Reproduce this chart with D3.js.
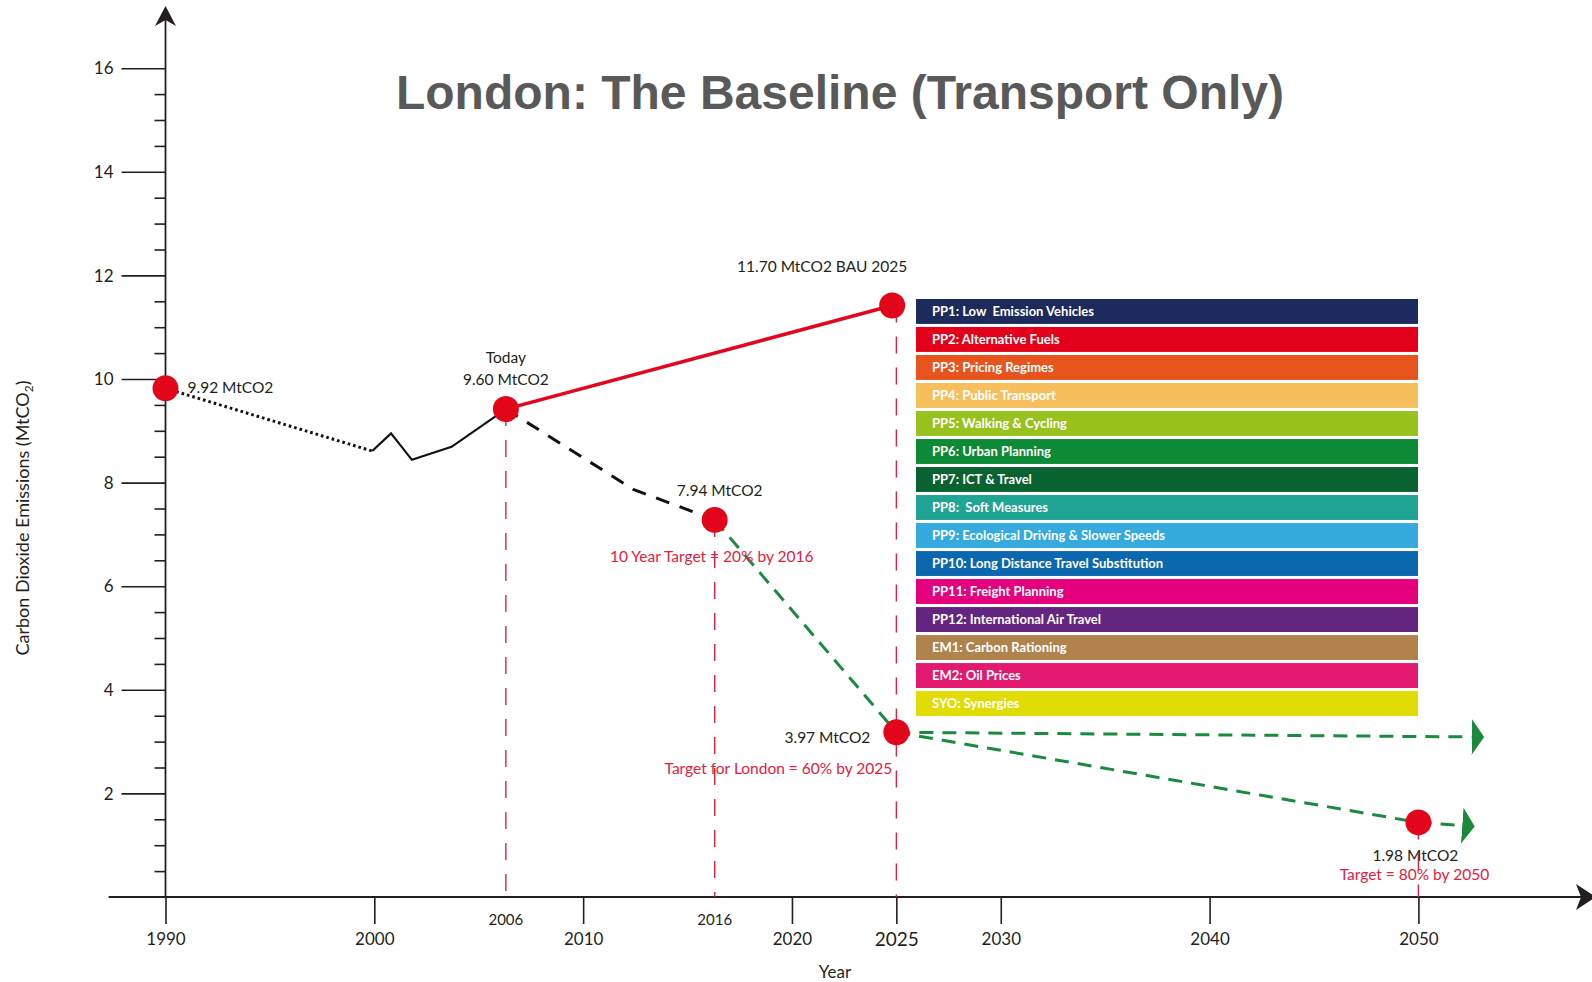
<!DOCTYPE html>
<html>
<head>
<meta charset="utf-8">
<script src="https://cdn.jsdelivr.net/npm/d3@7"></script>
<style>
  body { margin: 0; background: #fff; }
  svg { display: block; font-family: Lato, "Open Sans", sans-serif; }
  .tick text { font-family: Lato, sans-serif; fill: #231f20; }
  .policy { white-space: pre; }
</style>
</head>
<body>
<div id="chart"></div>
<script>
const WIDTH = 1592;
const HEIGHT = 982;

// axis ticks
const yearTicks = [1990, 2000, 2010, 2020, 2025, 2030, 2040, 2050];
// the two milestone years sit slightly right of their calendar position in the drawing
const markerYears = [2006.3, 2016.3];
const emissionTicks = [2, 4, 6, 8, 10, 12, 14, 16];

// series (year, MtCO2)
const historyDotted = [[1990, 9.82], [1999.9, 8.61]];
const historySolid = [[1999.9, 8.61], [2000.8, 8.95], [2001.8, 8.44], [2003.7, 8.69], [2006.3, 9.42]];
const targetPath = [[2006.3, 9.42], [2012.4, 7.87], [2016.3, 7.28]];
const bauPath = [[2006.3, 9.42], [2024.8, 11.42]];
const reductionPath = [[2016.3, 7.28], [2025, 3.18]];
const flatPath = [[2025, 3.18], [2052.55, 3.09]];
const declinePath = [[2025, 3.18], [2050, 1.44], [2052.1, 1.38]];

const milestones = [
  { year: 1990, value: 9.82 },
  { year: 2006.3, value: 9.42 },
  { year: 2016.3, value: 7.28 },
  { year: 2024.8, value: 11.42 },
  { year: 2025, value: 3.18 },
  { year: 2050, value: 1.44 },
];
const guideLines = [
  { year: 2006.3, value: 9.42 },
  { year: 2016.3, value: 7.28 },
  { year: 2025, value: 11.42 },
  { year: 2050, value: 1.44 },
];

const annotations = [
  { year: 1990, value: 9.82, text: '9.92 MtCO2', red: false },
  { year: 2006.3, value: 9.42, text: 'Today', red: false },
  { year: 2006.3, value: 9.42, text: '9.60 MtCO2', red: false },
  { year: 2024.8, value: 11.42, text: '11.70 MtCO2 BAU 2025', red: false },
  { year: 2016.3, value: 7.28, text: '7.94 MtCO2', red: false },
  { year: 2016.3, value: 7.28, text: '10 Year Target = 20% by 2016', red: true },
  { year: 2025, value: 3.18, text: '3.97 MtCO2', red: false },
  { year: 2025, value: 3.18, text: 'Target for London = 60% by 2025', red: true },
  { year: 2050, value: 1.44, text: '1.98 MtCO2', red: false },
  { year: 2050, value: 1.44, text: 'Target = 80% by 2050', red: true },
];
// label placement relative to its point: [dx, dy, anchor]
const annotationLayout = [
  [22, 5, 'start'],
  [0, -46, 'middle'],
  [0, -24, 'middle'],
  [-70, -33, 'middle'],
  [5, -24, 'middle'],
  [-3, 42, 'middle'],
  [-26, 11, 'end'],
  [-118, 42, 'middle'],
  [-3, 39, 'middle'],
  [-4, 58, 'middle'],
];

const policyLabels = [
  'PP1: Low  Emission Vehicles',
  'PP2: Alternative Fuels',
  'PP3: Pricing Regimes',
  'PP4: Public Transport',
  'PP5: Walking & Cycling',
  'PP6: Urban Planning',
  'PP7: ICT & Travel',
  'PP8:  Soft Measures',
  'PP9: Ecological Driving & Slower Speeds',
  'PP10: Long Distance Travel Substitution',
  'PP11: Freight Planning',
  'PP12: International Air Travel',
  'EM1: Carbon Rationing',
  'EM2: Oil Prices',
  'SYO: Synergies',
];
const policyColors = [
  '#1c2a5c', '#e2001a', '#e8541e', '#f6bf5b', '#98c21d', '#0d8a36', '#0a6231',
  '#20a494', '#34aadf', '#0b68ae', '#e5007e', '#63257f', '#b0834d', '#e3186f', '#e1dc05',
];

const RED = '#e4203f';
const GREEN = '#1a8a3c';
const INK = '#231f20';

const svg = d3.create('svg').attr('width', WIDTH).attr('height', HEIGHT);

const xScale = d3.scaleLinear().domain([1990, 2050]).range([165.5, 1418.4]);
const yScale = d3.scaleLinear().domain([0, 16]).range([897, 68.2]);
const lineGen = d3.line().x((d) => xScale(d[0])).y((d) => yScale(d[1]));

// title
svg
  .append('text')
  .attr('x', 840)
  .attr('y', 109)
  .attr('text-anchor', 'middle')
  .style('font-family', '"Liberation Sans", Arial, sans-serif')
  .style('font-weight', 'bold')
  .style('font-size', '48px')
  .style('fill', '#595959')
  .text('London: The Baseline (Transport Only)');

// y axis: major + minor ticks
const yMajor = svg
  .append('g')
  .attr('transform', `translate(${xScale(1990)}, 0)`)
  .call(d3.axisLeft(yScale).tickValues(emissionTicks).tickSize(44).tickPadding(8));
yMajor.select('.domain').remove();
yMajor.selectAll('line').attr('stroke', INK).attr('stroke-width', 1.6);
yMajor.selectAll('text').style('font-size', '17px').attr('dy', '0.34em');

const minorValues = d3.range(1, 32).map((d) => d / 2).filter((d) => d % 2 !== 0);
const yMinor = svg
  .append('g')
  .attr('transform', `translate(${xScale(1990)}, 0)`)
  .call(d3.axisLeft(yScale).tickValues(minorValues).tickSize(11).tickFormat(''));
yMinor.select('.domain').remove();
yMinor.selectAll('line').attr('stroke', INK).attr('stroke-width', 1.6);

// x axis
const xAxis = svg
  .append('g')
  .attr('transform', `translate(0, ${yScale(0)})`)
  .call(d3.axisBottom(xScale).tickValues(yearTicks).tickSize(27).tickPadding(9).tickFormat(d3.format('d')));
xAxis.select('.domain').remove();
xAxis.selectAll('line').attr('stroke', INK).attr('stroke-width', 1.6);
xAxis
  .selectAll('text')
  .style('font-size', (d) => (d === 2025 ? '19px' : '17px'));

svg
  .append('g')
  .selectAll('text')
  .data(markerYears)
  .join('text')
  .attr('x', (d) => xScale(d))
  .attr('y', yScale(0) + 28)
  .attr('text-anchor', 'middle')
  .style('font-size', '15px')
  .style('fill', INK)
  .text((d) => Math.round(d));

// axis lines with arrow heads
svg
  .append('line')
  .attr('x1', xScale(1990)).attr('x2', xScale(1990))
  .attr('y1', 18).attr('y2', yScale(0))
  .attr('stroke', INK).attr('stroke-width', 1.8);
svg
  .append('line')
  .attr('x1', 108.6).attr('x2', 1582)
  .attr('y1', yScale(0)).attr('y2', yScale(0))
  .attr('stroke', INK).attr('stroke-width', 1.8);
const ax = xScale(1990);
svg
  .append('path')
  .attr('d', `M${ax},6 L${ax + 10.5},26 L${ax},20 L${ax - 10.5},26 Z`)
  .attr('fill', INK);
const ay = yScale(0);
svg
  .append('path')
  .attr('d', `M1596,${ay} L1576,${ay - 13} L1581,${ay} L1576,${ay + 13} Z`)
  .attr('fill', INK);

svg
  .append('text')
  .attr('x', 835)
  .attr('y', 977.5)
  .attr('text-anchor', 'middle')
  .style('font-size', '17px')
  .style('fill', INK)
  .text('Year');

const yLabel = svg
  .append('text')
  .attr('transform', 'translate(29, 518) rotate(-90)')
  .attr('text-anchor', 'middle')
  .style('font-size', '18px')
  .style('fill', INK);
yLabel.append('tspan').text('Carbon Dioxide Emissions (MtCO');
yLabel.append('tspan').attr('dy', 4).style('font-size', '12px').text('2');
yLabel.append('tspan').attr('dy', -4).text(')');

// red guide lines
svg
  .append('g')
  .selectAll('line')
  .data(guideLines)
  .join('line')
  .attr('x1', (d) => xScale(d.year))
  .attr('x2', (d) => xScale(d.year))
  .attr('y1', (d) => yScale(d.value))
  .attr('y2', yScale(0))
  .attr('stroke', RED)
  .attr('stroke-width', 1.4)
  .attr('stroke-dasharray', '17,14');

// legend of policy packages
const band = d3.scaleBand().domain(policyLabels).range([299, 716]).paddingInner(0.11);
const legend = svg
  .append('g')
  .selectAll('g')
  .data(policyLabels)
  .join('g')
  .attr('transform', (d) => `translate(916, ${band(d)})`);
legend
  .append('rect')
  .attr('width', 502)
  .attr('height', band.bandwidth())
  .attr('fill', (d, i) => policyColors[i]);
legend
  .append('text')
  .attr('class', 'policy')
  .attr('x', 16)
  .attr('y', band.bandwidth() / 2 + 4.6)
  .style('font-size', '13px')
  .style('font-weight', 'bold')
  .style('fill', '#fff')
  .text((d) => d);

// arrow marker for scenarios
svg
  .append('defs')
  .append('marker')
  .attr('id', 'green-arrow')
  .attr('markerUnits', 'userSpaceOnUse')
  .attr('viewBox', '0 -18 13 36')
  .attr('refX', 0)
  .attr('refY', 0)
  .attr('markerWidth', 13)
  .attr('markerHeight', 36)
  .attr('orient', 'auto')
  .append('path')
  .attr('d', 'M0,-18 L12.5,0 L0,18 Z')
  .attr('fill', GREEN);

const drawPath = (data, color, width, dash) =>
  svg
    .append('path')
    .datum(data)
    .attr('d', lineGen)
    .attr('fill', 'none')
    .attr('stroke', color)
    .attr('stroke-width', width)
    .attr('stroke-dasharray', dash);

drawPath(historyDotted, '#111', 3, '2.6,3');
drawPath(historySolid, '#111', 2.2, null);
drawPath(targetPath, '#111', 3, '14,11');
drawPath(bauPath, '#e2061f', 3.5, null);
drawPath(reductionPath, GREEN, 3, '14,9');
drawPath(flatPath, GREEN, 3, '14,9').attr('marker-end', 'url(#green-arrow)');
drawPath(declinePath, GREEN, 3, '14,9').attr('marker-end', 'url(#green-arrow)');

// milestone dots
svg
  .append('g')
  .selectAll('circle')
  .data(milestones)
  .join('circle')
  .attr('cx', (d) => xScale(d.year))
  .attr('cy', (d) => yScale(d.value))
  .attr('r', 13)
  .attr('fill', '#e3061b');

// annotations
svg
  .append('g')
  .selectAll('text')
  .data(annotations)
  .join('text')
  .attr('x', (d, i) => xScale(d.year) + annotationLayout[i][0])
  .attr('y', (d, i) => yScale(d.value) + annotationLayout[i][1])
  .attr('text-anchor', (d, i) => annotationLayout[i][2])
  .style('font-size', '15.5px')
  .style('fill', (d) => (d.red ? RED : INK))
  .text((d) => d.text);

document.getElementById('chart').appendChild(svg.node());
</script>
</body>
</html>
